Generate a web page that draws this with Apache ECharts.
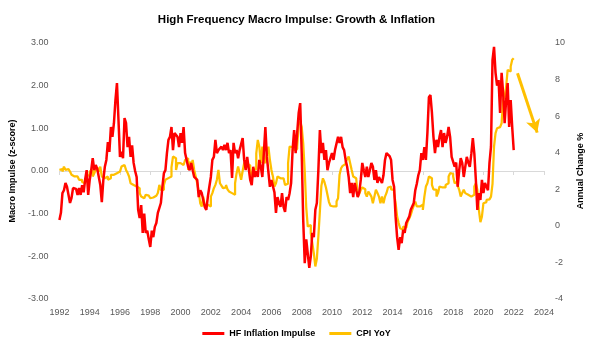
<!DOCTYPE html>
<html>
<head>
<meta charset="utf-8">
<script src="https://cdn.jsdelivr.net/npm/echarts@6/dist/echarts.min.js"></script>
<style>
  html, body { margin: 0; padding: 0; background: #fff; }
  #chart { width: 593px; height: 351px; }
</style>
</head>
<body>
<div id="chart"></div>
<script>
// x positions: start year + i * step
var startYear = 1992
var stepYear = 0.1

// HF Inflation Impulse (z-score), left axis, one value per 0.1 year from 1992.0
var hfImpulse = [
  -1.15, -0.98, -0.52, -0.45, -0.28, -0.37, -0.35, -0.75, -0.63, -0.4,
  -0.37, -0.42, -0.56, -0.4, -0.56, -0.33, -0.5, -0.2, 0.02, -0.56,
  -0.21, 0.02, 0.3, 0.02, 0.14, 0.05, 0.02, -0.33, -0.73, -0.21,
  0.1, 0.26, 0.68, 0.45, 1.03, 0.8, 1.12, 1.66, 2.06, 1.2,
  0.33, 0.45, 0.3, 1.24, 1.12, 0.56, 0.8, 0.33, 0.6, 0.19,
  0.0, -0.14, -0.91, -1.1, -0.8, -1.45, -1.0, -1.45, -1.4, -1.6,
  -1.78, -1.4, -1.55, -1.31, -1.22, -0.98, -1.0, -0.75, -0.37, -0.05,
  0.02, 0.42, 0.73, 0.8, 1.03, 0.49, 0.89, 0.89, 0.8, 0.56,
  0.89, 0.66, 1.03, 0.42, 0.26, 0.1, 0.02, 0.19, 0.02, -0.14,
  -0.14, -0.21, -0.61, -0.45, -0.52, -0.68, -0.84, -0.91, -0.61, -0.37,
  -0.14, 0.26, 0.33, 0.73, 0.42, 0.49, 0.49, 0.57, 0.49, 0.61,
  0.49, 0.66, 0.42, 0.49, -0.16, 0.66, 0.42, 0.49, 0.3, 0.49,
  0.49, 0.77, 0.26, 0.02, 0.33, 0.3, -0.21, -0.33, 0.1, -0.14,
  0.0, -0.14, 0.26, 0.1, -0.14, 0.42, 1.03, 0.33, 0.3, -0.37,
  -0.21, -0.2, -0.5, -0.98, -0.61, -0.75, -0.84, -0.52, -0.84, -0.96,
  -0.61, -0.68, -0.52, -0.28, 0.5, 0.96, 0.42, 0.89, 1.36, 1.59,
  0.42, -1.15, -2.16, -1.6, -1.6, -2.27, -2.0, -1.45, -1.55, -0.91,
  -0.75, 0.02, 0.96, 0.42, 0.66, 0.26, 0.49, 0.02, 0.19, 0.15,
  0.42, 0.26, 0.49, 0.45, 0.8, 0.66, 0.8, 0.56, 0.49, 0.26,
  0.1, -0.14, -0.52, -0.28, -0.61, -0.28, -0.45, -0.61, -0.5, -0.21,
  0.19, 0.02, -0.14, 0.1, -0.14, 0.02, 0.19, 0.1, -0.21, 0.02,
  -0.28, -0.14, -0.21, -0.28, -0.1, 0.26, 0.42, 0.45, 0.35, 0.26,
  -0.21, -0.37, -1.07, -1.55, -1.85, -1.55, -1.69, -1.38, -1.45, -1.22,
  -1.25, -1.07, -0.91, -0.95, -0.75, -0.45, -0.3, -0.1, 0.02, 0.42,
  0.26, 0.56, 0.26, 0.89, 1.73, 1.78, 1.36, 0.8, 0.42, 0.73,
  0.56, 0.8, 0.96, 0.56, 0.89, 0.66, 0.8, 1.03, 0.8, 0.33,
  0.33, 0.1, 0.2, -0.37, 0.02, 0.3, 0.19, -0.14, -0.13, 0.33,
  0.2, 0.1, 0.4, 0.77, 0.41, -0.21, -0.91, -0.52, -0.68, -0.21,
  -0.52, -0.28, -0.3, -0.45, 0.19, 0.57, 2.6, 2.91, 2.3, 2.0,
  2.13, 1.36, 2.3, 1.83, 1.12, 1.66, 2.06, 1.03, 1.66, 1.03,
  0.49
]

// CPI YoY (%), right axis, one value per 0.1 year from 1992.0
var cpiYoY = [
  3.06, 3.1, 2.97, 3.24, 3.06, 3.1, 3.06, 2.97, 2.79, 2.7,
  2.7, 2.7, 2.61, 2.52, 2.52, 2.4, 2.33, 2.52, 2.7, 2.8,
  2.97, 3.06, 2.7, 2.88, 3.06, 3.15, 2.97, 3.24, 2.7, 2.6,
  2.52, 2.7, 2.52, 2.6, 2.79, 2.79, 2.88, 2.88, 2.97, 2.97,
  3.06, 3.24, 3.33, 3.24, 3.06, 2.9, 2.7, 2.33, 2.24, 2.2,
  2.15, 2.1, 2.06, 1.79, 1.6, 1.51, 1.42, 1.7, 1.65, 1.6,
  1.51, 1.55, 1.6, 1.65, 1.7, 1.8, 2.24, 1.97, 1.97, 2.24,
  2.52, 2.61, 2.65, 2.7, 3.2, 3.79, 3.7, 3.06, 3.43, 3.43,
  3.43, 3.33, 3.4, 3.6, 3.7, 3.06, 3.51, 3.33, 3.6, 3.06,
  2.7, 2.33, 1.88, 1.24, 1.06, 1.6, 1.06, 1.15, 1.1, 1.06,
  1.6, 1.79, 2.06, 2.24, 2.52, 3.06, 2.33, 2.2, 2.06, 2.1,
  2.24, 2.0, 1.88, 1.79, 1.75, 1.7, 2.33, 2.88, 3.24, 2.88,
  2.52, 3.0, 3.43, 3.51, 3.4, 3.3, 3.15, 2.52, 3.06, 3.1,
  3.97, 4.7, 4.33, 3.43, 4.33, 3.6, 3.43, 3.97, 4.33, 3.6,
  3.06, 2.7, 2.15, 2.33, 2.7, 2.6, 2.52, 2.6, 2.7, 2.24,
  2.3, 3.43, 4.33, 4.3, 4.2, 4.15, 4.2, 4.33, 5.52, 5.7,
  5.4, 4.5, 3.0, 1.0, -0.04, 0.05, -0.4, -0.95, -1.49, -2.22,
  -1.8, -0.58, 0.8, 2.2, 2.6, 2.4, 2.1, 1.7, 1.3, 1.1,
  1.06, 1.06, 1.06, 1.33, 1.51, 2.8, 3.15, 3.28, 3.38, 3.5,
  3.65, 3.79, 3.43, 3.06, 2.7, 2.6, 2.52, 1.6, 1.75, 1.97,
  2.1, 2.0, 1.79, 1.6, 1.88, 1.75, 1.6, 1.24, 1.6, 1.97,
  1.8, 1.6, 1.24, 1.6, 1.24, 1.6, 1.8, 2.1, 2.15, 2.0,
  1.97, 1.79, 1.24, 0.51, 0.15, -0.13, -0.22, -0.04, -0.1, -0.04,
  0.24, 0.4, 0.6, 0.87, 1.1, 1.33, 1.06, 1.06, 1.1, 1.15,
  0.87, 1.6, 2.15, 2.33, 2.7, 2.6, 2.24, 2.0, 1.97, 1.6,
  1.79, 2.15, 2.1, 2.06, 2.1, 2.24, 2.33, 2.7, 2.88, 2.85,
  2.7, 2.33, 2.42, 2.2, 1.97, 1.6, 1.8, 1.97, 1.79, 1.7,
  1.6, 1.6, 1.65, 1.7, 2.15, 2.33, 1.97, 0.87, 0.2, 0.5,
  1.24, 1.3, 1.42, 1.45, 1.5, 1.6, 2.3, 4.33, 5.07, 5.34,
  5.4, 5.45, 5.61, 6.89, 7.07, 7.62, 8.53, 8.44, 8.71, 9.08,
  9.17
]

// arrow annotation: [year, CPI %] start and end
var arrowFrom = [2022.25, 8.35]
var arrowTo = [2023.55, 5.1]

var leftTicks = { min: -3, max: 3, interval: 1 }
var rightTicks = { min: -4, max: 10, interval: 2 }
var yearTicks = { min: 1992, max: 2024, interval: 2 }

function toPairs (values) {
  return values.map(function (v, i) {
    return [+(startYear + i * stepYear).toFixed(2), v]
  })
}

var labelStyle = { color: '#595959', fontSize: 9, fontFamily: 'Liberation Sans' }
var nameStyle = { color: '#000', fontSize: 9, fontWeight: 'bold', fontFamily: 'Liberation Sans' }

var chart = echarts.init(document.getElementById('chart'))
chart.setOption({
  animation: false,
  title: {
    text: 'High Frequency Macro Impulse: Growth & Inflation',
    left: 'center',
    top: 9,
    textStyle: { fontSize: 11.5, fontWeight: 'bold', color: '#000', fontFamily: 'Liberation Sans' }
  },
  legend: {
    bottom: 8,
    left: 'center',
    icon: 'rect',
    itemWidth: 22,
    itemHeight: 3,
    itemGap: 14,
    textStyle: { color: '#000', fontSize: 9, fontWeight: 'bold', fontFamily: 'Liberation Sans' },
    data: ['HF Inflation Impulse', 'CPI YoY']
  },
  grid: { left: 51, right: 44, top: 43, bottom: 52 },
  xAxis: [
    {
      type: 'value',
      min: yearTicks.min,
      max: yearTicks.max,
      interval: yearTicks.interval,
      axisLine: { show: false, onZero: false },
      axisTick: { show: false },
      splitLine: { show: false },
      axisLabel: Object.assign({ margin: 9, formatter: function (v) { return String(v) } }, labelStyle)
    },
    {
      type: 'value',
      position: 'bottom',
      min: yearTicks.min,
      max: yearTicks.max,
      interval: yearTicks.interval,
      axisLine: { show: true, onZero: true, onZeroAxisIndex: 0, lineStyle: { color: '#d9d9d9', width: 1 } },
      axisTick: { show: true, length: 4, lineStyle: { color: '#d9d9d9' } },
      splitLine: { show: false },
      axisLabel: { show: false }
    }
  ],
  yAxis: [
    {
      type: 'value',
      min: leftTicks.min,
      max: leftTicks.max,
      interval: leftTicks.interval,
      name: 'Macro Impulse (z-score)',
      nameLocation: 'middle',
      nameRotate: 90,
      nameGap: 39,
      nameTextStyle: nameStyle,
      axisLine: { show: false },
      axisTick: { show: false },
      splitLine: { show: false },
      axisLabel: Object.assign({ margin: 11, formatter: function (v) { return v.toFixed(2) } }, labelStyle)
    },
    {
      type: 'value',
      min: rightTicks.min,
      max: rightTicks.max,
      interval: rightTicks.interval,
      name: 'Annual Change %',
      nameLocation: 'middle',
      nameRotate: 90,
      nameGap: 32,
      nameTextStyle: nameStyle,
      axisLine: { show: false },
      axisTick: { show: false },
      splitLine: { show: false },
      axisLabel: Object.assign({ margin: 11 }, labelStyle)
    }
  ],
  series: [
    {
      name: 'HF Inflation Impulse',
      type: 'line',
      xAxisIndex: 0,
      yAxisIndex: 0,
      data: toPairs(hfImpulse),
      symbol: 'none',
      z: 3,
      lineStyle: { color: '#ff0000', width: 2.5 },
      itemStyle: { color: '#ff0000' }
    },
    {
      name: 'CPI YoY',
      type: 'line',
      xAxisIndex: 0,
      yAxisIndex: 1,
      data: toPairs(cpiYoY),
      symbol: 'none',
      step: 'end',
      z: 2,
      lineStyle: { color: '#ffc000', width: 2.25 },
      itemStyle: { color: '#ffc000' },
      markLine: {
        silent: true,
        symbol: ['none', 'arrow'],
        symbolSize: [11, 13],
        label: { show: false },
        lineStyle: { color: '#ffc000', width: 3, type: 'solid' },
        data: [[{ coord: arrowFrom }, { coord: arrowTo }]]
      }
    }
  ]
})
</script>
</body>
</html>
